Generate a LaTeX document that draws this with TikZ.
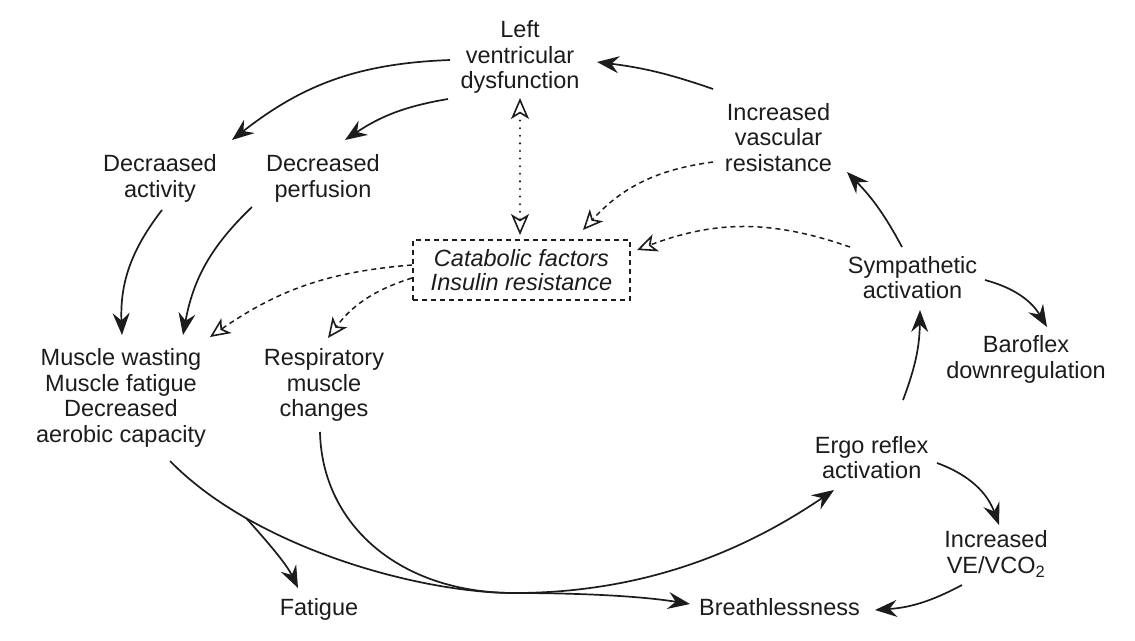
\documentclass[tikz,border=0pt]{standalone}
\usepackage{fontspec}
\setmainfont{Liberation Sans}
\usetikzlibrary{arrows.meta,calc}
\definecolor{ink}{RGB}{28,28,28}
\begin{document}
\begin{tikzpicture}[x=1pt,y=1pt,
  lbl/.style={align=center, inner sep=0pt, text=ink,
    font=\fontsize{23.5}{25.5}\selectfont},
  arr/.style={draw=ink, line width=1.7pt,
    -{Stealth[length=22pt,width=17pt,inset=7.5pt]}},
  opentip/.style={},
  dasharr/.style={draw=ink, line width=1.5pt, dash pattern=on 5pt off 4pt,
    -{Stealth[open,length=20pt,width=18pt,inset=5.5pt,line width=1.6pt]}},
  dotarr/.style={draw=ink, line width=2.3pt, line cap=round,
    dash pattern=on 0pt off 7.6pt,
    {Stealth[open,length=21pt,width=18pt,inset=5.5pt,line width=1.6pt]}-{Stealth[open,length=21pt,width=18pt,inset=5.5pt,line width=1.6pt]}},
  catbox/.style={draw=ink, line width=1.6pt, dash pattern=on 5pt off 4pt,
    minimum width=217pt, minimum height=60pt, inner sep=0pt, align=center,
    text=ink, font=\fontsize{23.5}{23.5}\selectfont\itshape}
]
\useasboundingbox[fill=white] (0,0) rectangle (1135,-640);

% labels
\node[lbl] (lvd)    at (520,-57.4)   {Left\\ventricular\\dysfunction};
\node[lbl] (dact)   at (160,-178.6)  {Decraased\\activity};
\node[lbl] (dperf)  at (323,-178.6)  {Decreased\\perfusion};
\node[lbl] (ivr)    at (778.5,-137.1){Increased\\vascular\\resistance};
\node[catbox] (cat) at (521.5,-270)  {Catabolic factors\\Insulin resistance};
\node[lbl] (sym)    at (912.5,-277.4){Sympathetic\\activation};
\node[lbl] (baro)   at (1026,-359.6) {Baroflex\\downregulation};
\node[lbl] (musc)   at (121,-398)    {Muscle wasting\\Muscle fatigue\\Decreased\\aerobic capacity};
\node[lbl] (resp)   at (324,-385.4)  {Respiratory\\muscle\\changes};
\node[lbl] (ergo)   at (871.7,-457.4){Ergo reflex\\activation};
\node[lbl] (ive)    at (996,-554)    {Increased\\VE/VCO\textsubscript{2}};
\node[lbl] (fat)    at (319,-609)    {Fatigue};
\node[lbl] (breath) at (779.5,-606.6){Breathlessness};

% upper loop
\draw[arr] ($(ivr)+(-65.5,48.1)$) to[bend right=6] ($(lvd)+(77,-4.6)$);
\draw[arr] ($(lvd)+(-70,-2.6)$) to[bend right=18] ($(dact)+(72,38.6)$);
\draw[arr] ($(lvd)+(-72,-41.6)$) to[bend right=12] ($(dperf)+(22,38.6)$);
\draw[arr] ($(dact)+(2,-31.4)$) to[bend right=20] ($(musc)+(1,63)$);
\draw[arr] ($(dperf)+(-71,-28.4)$) to[bend right=18] ($(musc)+(62,63)$);

% catabolic factors links
\draw[dotarr] ($(lvd)+(0,-40.6)$) -- ($(cat)+(-1.5,35)$);
\draw[dasharr] ($(cat)+(-109.5,5)$) to[bend right=15] ($(musc)+(89,61)$);
\draw[dasharr] ($(cat)+(-109.5,-8)$) to[bend right=18] ($(resp)+(4,47.4)$);
\draw[dasharr] ($(ivr)+(-65.5,-24.9)$) to[bend right=20] ($(cat)+(61.5,40)$);
\draw[dasharr] ($(sym)+(-62.5,30.4)$) to[bend right=20] ($(cat)+(115.5,20)$);

% right side
\draw[arr] ($(sym)+(-10.5,30.4)$) to[bend right=8] ($(ivr)+(68.5,-34.9)$);
\draw[arr] ($(sym)+(72.5,-2.6)$) to[bend left=22] ($(baro)+(21,32.6)$);
\draw[arr] ($(ergo)+(31.3,57.4)$) to[bend right=10] ($(sym)+(7.5,-32.6)$);
\draw[arr] ($(ergo)+(65.3,-5.6)$) to[bend left=25] ($(ive)+(3,29)$);
\draw[arr] ($(ive)+(-34,-31)$) to[bend left=12] ($(breath)+(95.5,-3.4)$);

% lower sweep
\coordinate (trough) at (514,-593);
\draw[arr] ($(musc)+(49,-63)$) .. controls (255,-548) and (420,-593) .. (trough)
  coordinate[pos=0.25] (fork)
  .. controls (660,-593) and (760,-540) .. ($(ergo)+(-37.7,-32.6)$);
\draw[arr] (fork) .. controls (264,-538) and (286,-563) .. ($(fat)+(-21,21)$);
\draw[arr] ($(resp)+(-4,-46.6)$) .. controls (322,-525) and (400,-593) .. (trough)
  .. controls (580,-593) and (640,-596) .. ($(breath)+(-89.5,2.6)$);
\end{tikzpicture}
\end{document}
